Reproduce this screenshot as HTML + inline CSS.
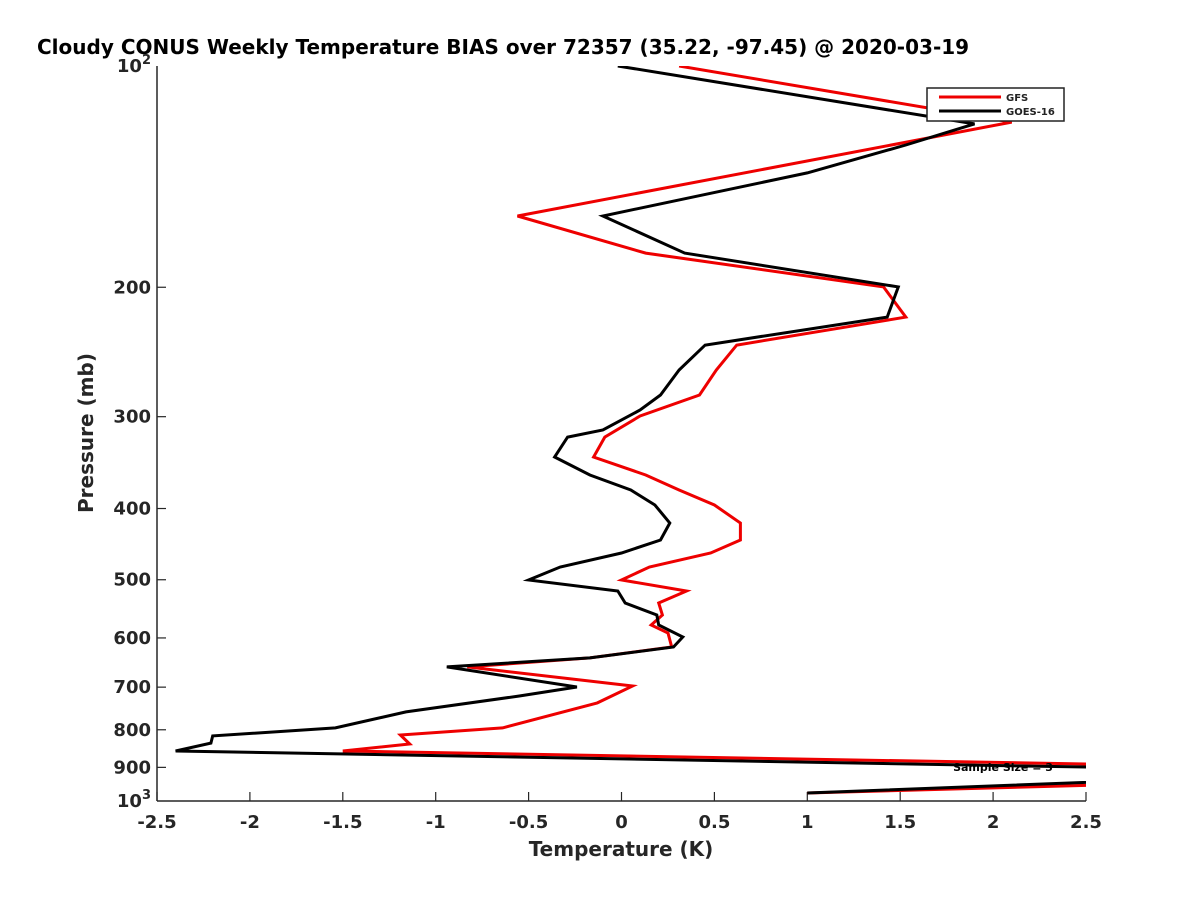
<!DOCTYPE html>
<html><head><meta charset="utf-8"><style>
html,body{margin:0;padding:0;background:#fff;}
svg{display:block;font-family:"DejaVu Sans","Liberation Sans",sans-serif;}
</style></head><body>
<svg id="chart" width="1200" height="900" viewBox="0 0 1200 900">
<defs><clipPath id="plotclip"><rect x="157" y="66" width="929" height="735"/></clipPath></defs>
<text x="37" y="54" font-size="20" font-weight="bold" fill="#000">Cloudy CONUS Weekly Temperature BIAS over 72357 (35.22, -97.45) @ 2020-03-19</text>
<g id="axes"></g>
<g id="series" clip-path="url(#plotclip)"></g>
<text x="1003" y="771" font-size="11" font-weight="bold" text-anchor="middle" fill="#000">Sample Size = 3</text>
<g>
<rect x="927" y="88" width="137" height="33" fill="#fff" stroke="#222" stroke-width="1.5"/>
<line x1="939" y1="97" x2="1001" y2="97" stroke="#e00" stroke-width="3"/>
<text x="1006" y="101" font-size="10" font-weight="bold" fill="#222">GFS</text>
<line x1="939" y1="111" x2="1001" y2="111" stroke="#000" stroke-width="3"/>
<text x="1006" y="115" font-size="10" font-weight="bold" fill="#222">GOES-16</text>
</g>
</svg>
<script>
const xTicks = [-2.5,-2,-1.5,-1,-0.5,0,0.5,1,1.5,2,2.5];
const xTickLabels = ["-2.5","-2","-1.5","-1","-0.5","0","0.5","1","1.5","2","2.5"];
const yTicks = [200,300,400,500,600,700,800,900];
const yTickLabels = ["200","300","400","500","600","700","800","900"];
const gfsPressure = [100,119.2,160,179.7,199.8,219.6,239.7,259.2,280.3,299.4,319.8,340.4,360.1,377.5,395.6,418.6,441.5,459.8,480.4,500.4,518,537.8,558.4,576.2,590.8,617.3,638.8,657,697.4,735.5,795.3,813.1,836.5,855.1,914,975.2];
const gfsTemp = [0.31,2.10,-0.56,0.13,1.41,1.53,0.62,0.51,0.42,0.10,-0.09,-0.15,0.13,0.31,0.50,0.64,0.64,0.48,0.15,0,0.35,0.20,0.22,0.16,0.25,0.27,-0.17,-0.83,0.06,-0.13,-0.64,-1.19,-1.14,-1.50,5.06,1.0];
const goesPressure = [100,119.9,128.1,139.8,160,179.7,199.8,219.6,239.7,259.2,280.3,293.8,312.8,319.8,340.4,360.1,377.5,395.6,418.6,441.5,459.8,480.4,500.4,518,537.8,558.4,576.2,598.3,617.3,638.8,657,699.7,719.6,756.5,795.3,815.5,834,855.1,912.9,975.2];
const goesTemp = [-0.02,1.90,1.53,1.00,-0.10,0.34,1.49,1.43,0.45,0.31,0.21,0.10,-0.10,-0.29,-0.36,-0.17,0.05,0.18,0.26,0.21,0,-0.33,-0.50,-0.02,0.02,0.19,0.20,0.33,0.28,-0.17,-0.94,-0.24,-0.55,-1.16,-1.54,-2.20,-2.21,-2.40,3.98,1.0];

const X0=157,X1=1086,Y0=66,Y1=801;
function xs(t){return X0+(t+2.5)/5*(X1-X0);}
function ys(p){return Y0+(Math.log10(p)-2)*(Y1-Y0);}
const NS="http://www.w3.org/2000/svg";
const axes=document.getElementById('axes');
const series=document.getElementById('series');
function mk(tag,attrs,parent){const e=document.createElementNS(NS,tag);for(const k in attrs)e.setAttribute(k,attrs[k]);parent.appendChild(e);return e;}

const xa=mk('line',{x1:X0,y1:Y1,x2:X1,y2:Y1,stroke:'#262626','stroke-width':1.5},axes);


const ya=mk('line',{x1:X0,y1:Y0,x2:X0,y2:Y1,stroke:'#262626','stroke-width':1.5},axes);



xTicks.forEach((t,i)=>{
  const x=xs(t);
  const tk=mk('line',{x1:x,y1:Y1,x2:x,y2:Y1-9,stroke:'#262626','stroke-width':1.2},axes);
  
  
  const lb=mk('text',{x:x,y:Y1+27,'font-size':18,'font-weight':'bold','text-anchor':'middle',fill:'#262626'},axes);
  lb.textContent=xTickLabels[i];
  
  
});
yTicks.forEach((p,i)=>{
  const y=ys(p);
  const tk=mk('line',{x1:X0,y1:y,x2:X0+9,y2:y,stroke:'#262626','stroke-width':1.2},axes);
  
  
  const lb=mk('text',{x:X0-6,y:y+6,'font-size':18,'font-weight':'bold','text-anchor':'end',fill:'#262626'},axes);
  lb.textContent=yTickLabels[i];
  
  
});
[[100,'2'],[1000,'3']].forEach(([p,e])=>{
  const y=ys(p);
  const lb=mk('text',{x:X0-6,y:y+6,'font-size':18,'font-weight':'bold','text-anchor':'end',fill:'#262626'},axes);
  lb.innerHTML='10<tspan dy="-8" font-size="13">'+e+'</tspan>';
  
  
});
const xt=mk('text',{x:621,y:856,'font-size':20,'font-weight':'bold','text-anchor':'middle',fill:'#262626'},axes);
xt.textContent='Temperature (K)';


const yt=mk('text',{x:0,y:0,'font-size':20,'font-weight':'bold','text-anchor':'middle',fill:'#262626',transform:'translate(93,433) rotate(-90)'},axes);
yt.textContent='Pressure (mb)';



function drawLine(P,T,color,name){
  const pts=P.map((p,i)=>xs(T[i]).toFixed(1)+','+ys(p).toFixed(1)).join(' ');
  const pl=mk('polyline',{points:pts,fill:'none',stroke:color,'stroke-width':3,'stroke-linejoin':'miter'},series);
  
  
}
drawLine(gfsPressure,gfsTemp,'#e00','gfs-line');
drawLine(goesPressure,goesTemp,'#000','goes16-line');
</script>
</body></html>
